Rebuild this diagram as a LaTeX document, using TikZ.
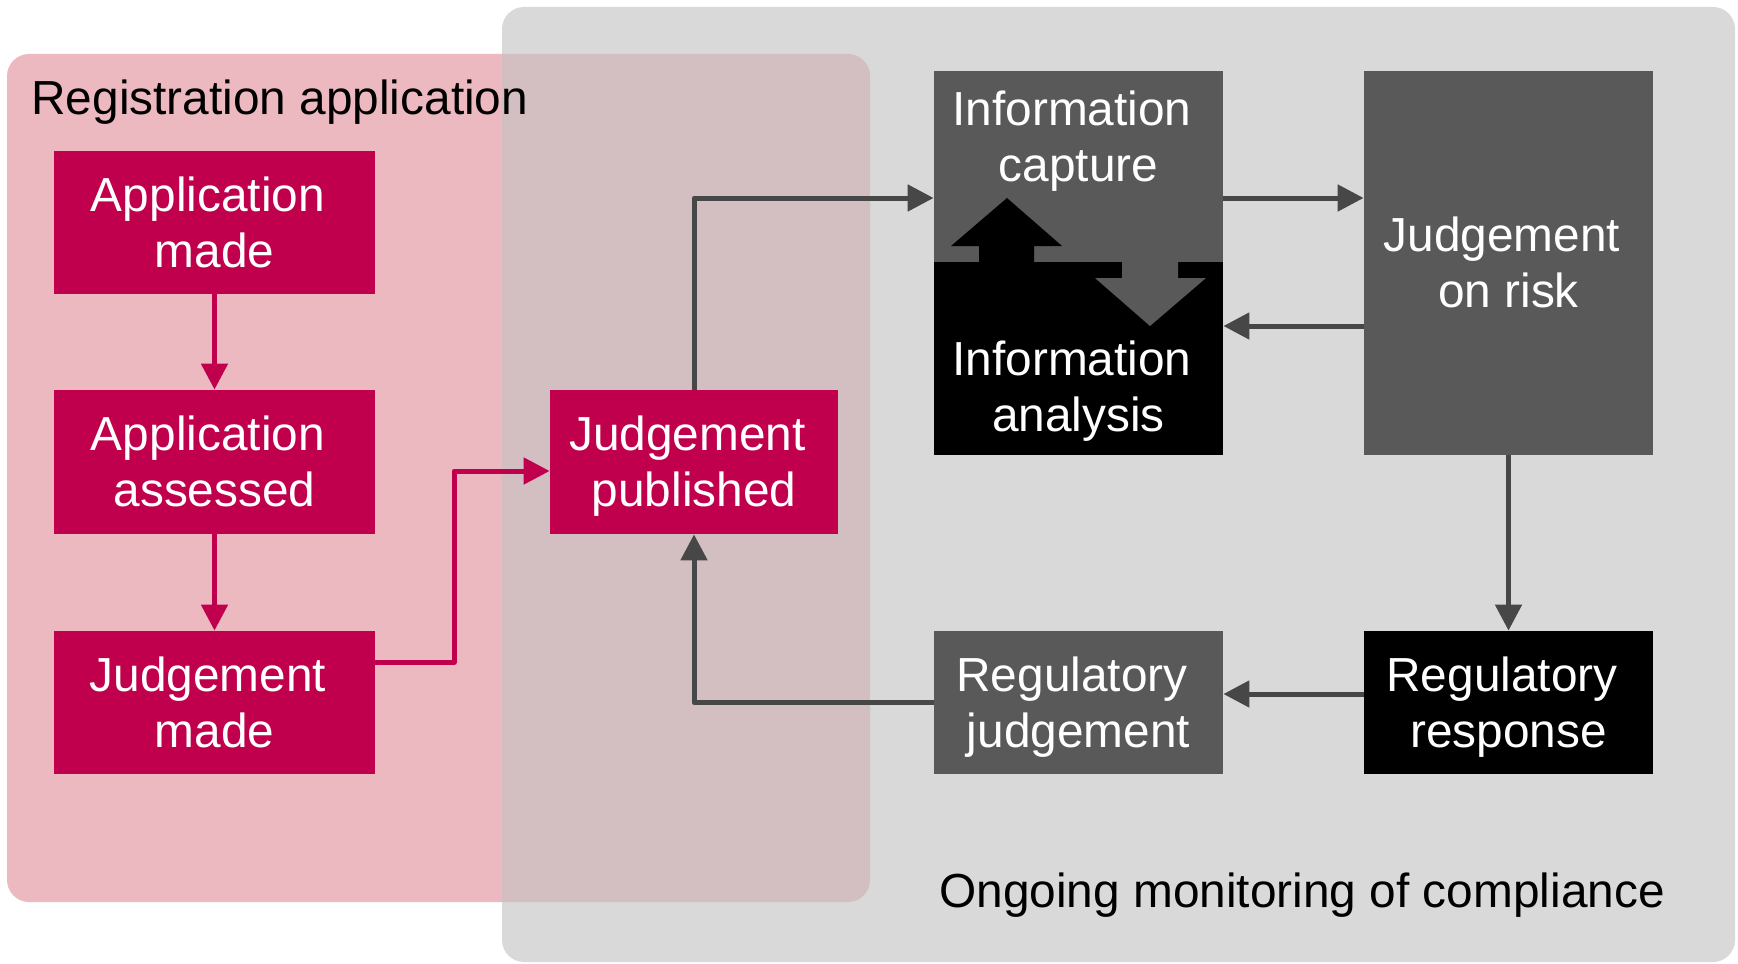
\documentclass[tikz,border=0pt]{standalone}
\usepackage{fontspec}
\setmainfont{Liberation Sans}
\usetikzlibrary{arrows.meta,calc}
\definecolor{crim}{HTML}{C0004C}
\definecolor{dgray}{HTML}{595959}
\definecolor{bggray}{HTML}{D9D9D9}
\definecolor{pinkbg}{HTML}{EDB9C1}
\definecolor{overlapc}{HTML}{D3BEC1}
\definecolor{arrgray}{HTML}{474747}
\newcommand{\qstr}{\rule[-0.212em]{0pt}{1.117em}}
\newcommand{\pstr}{\qstr\hspace*{6.6pt}}
\begin{document}
\begin{tikzpicture}[x=0.5pt,y=-0.5pt,
  txt/.style={inner sep=0pt, text=white, align=center, font=\fontsize{23.9}{28}\selectfont},
  lbl/.style={inner sep=0pt, text=black, font=\fontsize{23.9}{28}\selectfont},
  box/.style={txt, rectangle},
  pbox/.style={box, fill=crim, minimum width=160.5pt, minimum height=71.5pt},
  gbox/.style={box, fill=dgray, minimum width=144.5pt},
  kbox/.style={box, fill=black, minimum width=144.5pt},
  parr/.style={draw=crim, line width=2.5pt, line join=round, -{Triangle[length=13pt,width=13pt]}},
  garr/.style={draw=arrgray, line width=2.5pt, line join=round, -{Triangle[length=13pt,width=13pt]}}
]
\useasboundingbox (0,0) rectangle (1738,963);
% background regions
\fill[pinkbg, rounded corners=11pt] (7,54) rectangle (870,902);
\fill[bggray, rounded corners=11pt] (502,7) rectangle (1735,962);
\begin{scope}
\clip[rounded corners=11pt] (7,54) rectangle (870,902);
\fill[overlapc, rounded corners=11pt] (502,7) rectangle (1735,962);
\end{scope}
\node[lbl, anchor=base west] (reglbl) at (31,114) {Registration application};
\node[lbl, anchor=base west] (monlbl) at (939,907) {Ongoing monitoring of compliance};

% crimson boxes
\node[pbox] (am) at (214.5,222.5) {Application\pstr\\made\qstr};
\node[pbox, minimum height=72pt] (aa) at (214.5,462) {Application\pstr\\assessed\qstr};
\node[pbox] (jm) at (214.5,702.5) {Judgement\pstr\\made\qstr};
\node[pbox, minimum width=144pt, minimum height=72pt] (jp) at (694,462) {Judgement\pstr\\published\qstr};

% information box
\node[gbox, minimum height=95.5pt] (cap) at (1078.5,166.5) {};
\node[kbox, minimum height=96.5pt] (ana) at (1078.5,358.5) {};
\fill[black] (979,263) -- (979,246) -- (951,246) -- (1007,198) -- (1062,246) -- (1034,246) -- (1034,263) -- cycle;
\fill[dgray] (1122,261) -- (1122,278) -- (1095,278) -- (1150,326) -- (1206,278) -- (1178,278) -- (1178,261) -- cycle;
\node[txt] (capt) at (1078.5,137) {Information\pstr\\capture\qstr};
\node[txt] (anat) at (1078.5,387) {Information\pstr\\analysis\qstr};

% right column
\node[gbox, minimum height=192pt] (risk) at (1508.5,263) {Judgement\pstr\\on risk\qstr};
\node[kbox, minimum height=71.5pt] (resp) at (1508.5,702.5) {Regulatory\pstr\\response\qstr};
\node[gbox, minimum height=71.5pt] (rj) at (1078.5,702.5) {Regulatory\pstr\\judgement\qstr};

% connectors
\draw[parr] (am.south) -- (aa.north);
\draw[parr] (aa.south) -- (jm.north);
\draw[parr] (jm.east |- 0,662) -| (454,471) -- (jp.west |- 0,471);
\draw[garr] (jp.north) |- (cap.west |- 0,198);
\draw[garr] (cap.east |- 0,198) -- (risk.west |- 0,198);
\draw[garr] (risk.west |- 0,326) -- (ana.east |- 0,326);
\draw[garr] (risk.south) -- (resp.north);
\draw[garr] (resp.west |- 0,694) -- (rj.east |- 0,694);
\draw[garr] (rj.west) -| (jp.south);
\end{tikzpicture}
\end{document}
